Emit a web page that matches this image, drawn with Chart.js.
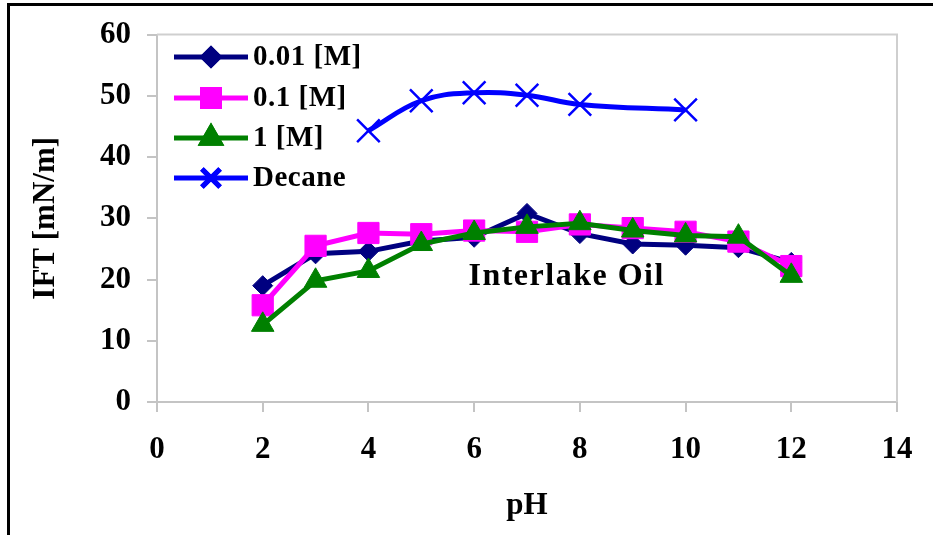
<!DOCTYPE html>
<html>
<head>
<meta charset="utf-8">
<script src="https://cdn.jsdelivr.net/npm/chart.js@4.4.1/dist/chart.umd.min.js"></script>
<style>
  body { margin: 0; background: #fff; }
  #frame {
    position: absolute; left: 7px; top: 3px; width: 940px; height: 540px;
    border-left: 3px solid #000; border-top: 3px solid #000;
  }
  #graficoIFT { position: absolute; left: 0; top: 0; }
</style>
</head>
<body>
<div id="frame"></div>
<canvas id="graficoIFT" width="933" height="535"></canvas>
<script>
// pH values of the measurements
const phSal = [2, 3, 4, 5, 6, 7, 8, 9, 10, 11, 12];
const ift001 = [19.0, 24.2, 24.6, 26.3, 26.9, 30.8, 27.5, 25.8, 25.6, 25.2, 22.8];
const ift01 = [15.8, 25.5, 27.6, 27.4, 28.0, 27.8, 29.0, 28.4, 27.8, 26.2, 22.2];
const ift1 = [12.6, 19.8, 21.4, 25.8, 27.6, 28.6, 29.2, 28.0, 27.2, 27.0, 20.6];

const phDecane = [4, 5, 6, 7, 8, 10];
const iftDecane = [44.3, 49.2, 50.5, 50.1, 48.6, 47.7];

const xTicks = [0, 2, 4, 6, 8, 10, 12, 14];
const yTicks = [0, 10, 20, 30, 40, 50, 60];

const nomeOleo = "Interlake Oil";
const posOleo = { x: 7.75, y: 20.4 };

const fonte = "'Liberation Serif', 'Times New Roman', serif";

function pontos(xs, ys) {
  return xs.map((x, i) => ({ x: x, y: ys[i] }));
}

const series = [
  { label: "0.01 [M]", data: pontos(phSal, ift001), cor: "#000080", estilo: "rectRot", raio: 10, order: 3 },
  { label: "0.1 [M]", data: pontos(phSal, ift01), cor: "#FF00FF", estilo: "rect", raio: 15, order: 2 },
  { label: "1 [M]", data: pontos(phSal, ift1), cor: "#008000", estilo: "triangle", raio: 13, order: 1 },
  { label: "Decane", data: pontos(phDecane, iftDecane), cor: "#0000FF", estilo: "crossRot", raio: 16, order: 4, suave: true }
];

// legend drawn inside the plot area, line + marker like the original
const legendaInterna = {
  id: "legendaInterna",
  afterDraw(chart) {
    const ctx = chart.ctx;
    const linhas = [57, 98, 138, 178];
    ctx.save();
    chart.data.datasets.forEach((ds, i) => {
      const y = linhas[i];
      ctx.strokeStyle = ds.borderColor;
      ctx.lineWidth = 5;
      ctx.beginPath();
      ctx.moveTo(174, y);
      ctx.lineTo(248, y);
      ctx.stroke();
      Chart.helpers.drawPoint(ctx, {
        pointStyle: ds.pointStyle,
        radius: ds.pointRadius * 0.8,
        borderWidth: ds.pointStyle === "crossRot" ? 2.5 : 1,
        rotation: 0
      }, 211, y);
      ctx.fillStyle = ds.pointBackgroundColor;
      ctx.strokeStyle = ds.pointBorderColor;
      ctx.fill();
      ctx.stroke();
      ctx.fillStyle = "#000";
      ctx.font = "bold 29px " + fonte;
      ctx.letterSpacing = "0.5px";
      ctx.textBaseline = "middle";
      ctx.textAlign = "left";
      ctx.fillText(ds.label, 253, y + 1);
    });
    ctx.restore();
  }
};

const rotuloOleo = {
  id: "rotuloOleo",
  afterDatasetsDraw(chart) {
    const ctx = chart.ctx;
    const x = chart.scales.x.getPixelForValue(posOleo.x);
    const y = chart.scales.y.getPixelForValue(posOleo.y);
    ctx.save();
    ctx.fillStyle = "#000";
    ctx.font = "bold 32px " + fonte;
    ctx.letterSpacing = "1.5px";
    ctx.textAlign = "center";
    ctx.textBaseline = "middle";
    ctx.fillText(nomeOleo, x, y);
    ctx.restore();
  }
};

const moldura = {
  id: "moldura",
  beforeDatasetsDraw(chart) {
    const a = chart.chartArea;
    const ctx = chart.ctx;
    ctx.save();
    ctx.strokeStyle = "#cfcfcf";
    ctx.lineWidth = 2;
    ctx.beginPath();
    ctx.moveTo(a.left, a.top);
    ctx.lineTo(a.right, a.top);
    ctx.lineTo(a.right, a.bottom);
    ctx.stroke();
    ctx.restore();
  }
};

const ctx = document.getElementById("graficoIFT").getContext("2d");

new Chart(ctx, {
  type: "line",
  data: {
    datasets: series.map(s => ({
      label: s.label,
      data: s.data,
      borderColor: s.cor,
      backgroundColor: s.cor,
      pointBackgroundColor: s.cor,
      pointBorderColor: s.cor,
      pointStyle: s.estilo,
      pointRadius: s.raio,
      pointHoverRadius: s.raio,
      pointBorderWidth: s.estilo === "crossRot" ? 2.5 : 1,
      borderWidth: 5,
      tension: s.suave ? 0.4 : 0,
      fill: false,
      order: s.order
    }))
  },
  options: {
    responsive: false,
    animation: false,
    events: [],
    layout: { padding: { left: 0, top: 32, right: 36, bottom: 0 } },
    plugins: {
      legend: { display: false },
      tooltip: { enabled: false }
    },
    scales: {
      x: {
        type: "linear",
        min: 0,
        max: 14,
        afterBuildTicks: s => { s.ticks = xTicks.map(v => ({ value: v })); },
        afterFit: s => { s.height = 133; },
        grid: { drawOnChartArea: false, color: "#c4c4c4", tickLength: 10, lineWidth: 2 },
        border: { color: "#c4c4c4", width: 2 },
        ticks: { color: "#000", padding: 19, font: { family: fonte, size: 31, weight: "bold" } },
        title: {
          display: true,
          text: "pH",
          color: "#000",
          padding: { top: 0, bottom: 10 },
          font: { family: fonte, size: 31, weight: "bold" }
        }
      },
      y: {
        min: 0,
        max: 60,
        afterBuildTicks: s => { s.ticks = yTicks.map(v => ({ value: v })); },
        afterFit: s => { s.width = 157; },
        grid: { drawOnChartArea: false, color: "#c4c4c4", tickLength: 10, lineWidth: 2 },
        border: { color: "#c4c4c4", width: 2 },
        ticks: { color: "#000", padding: 16, font: { family: fonte, size: 31, weight: "bold" } },
        title: {
          display: true,
          text: "IFT [mN/m]",
          color: "#000",
          padding: { top: 27, bottom: 0 },
          font: { family: fonte, size: 31, weight: "bold" }
        }
      }
    }
  },
  plugins: [moldura, rotuloOleo, legendaInterna]
});
</script>
</body>
</html>
